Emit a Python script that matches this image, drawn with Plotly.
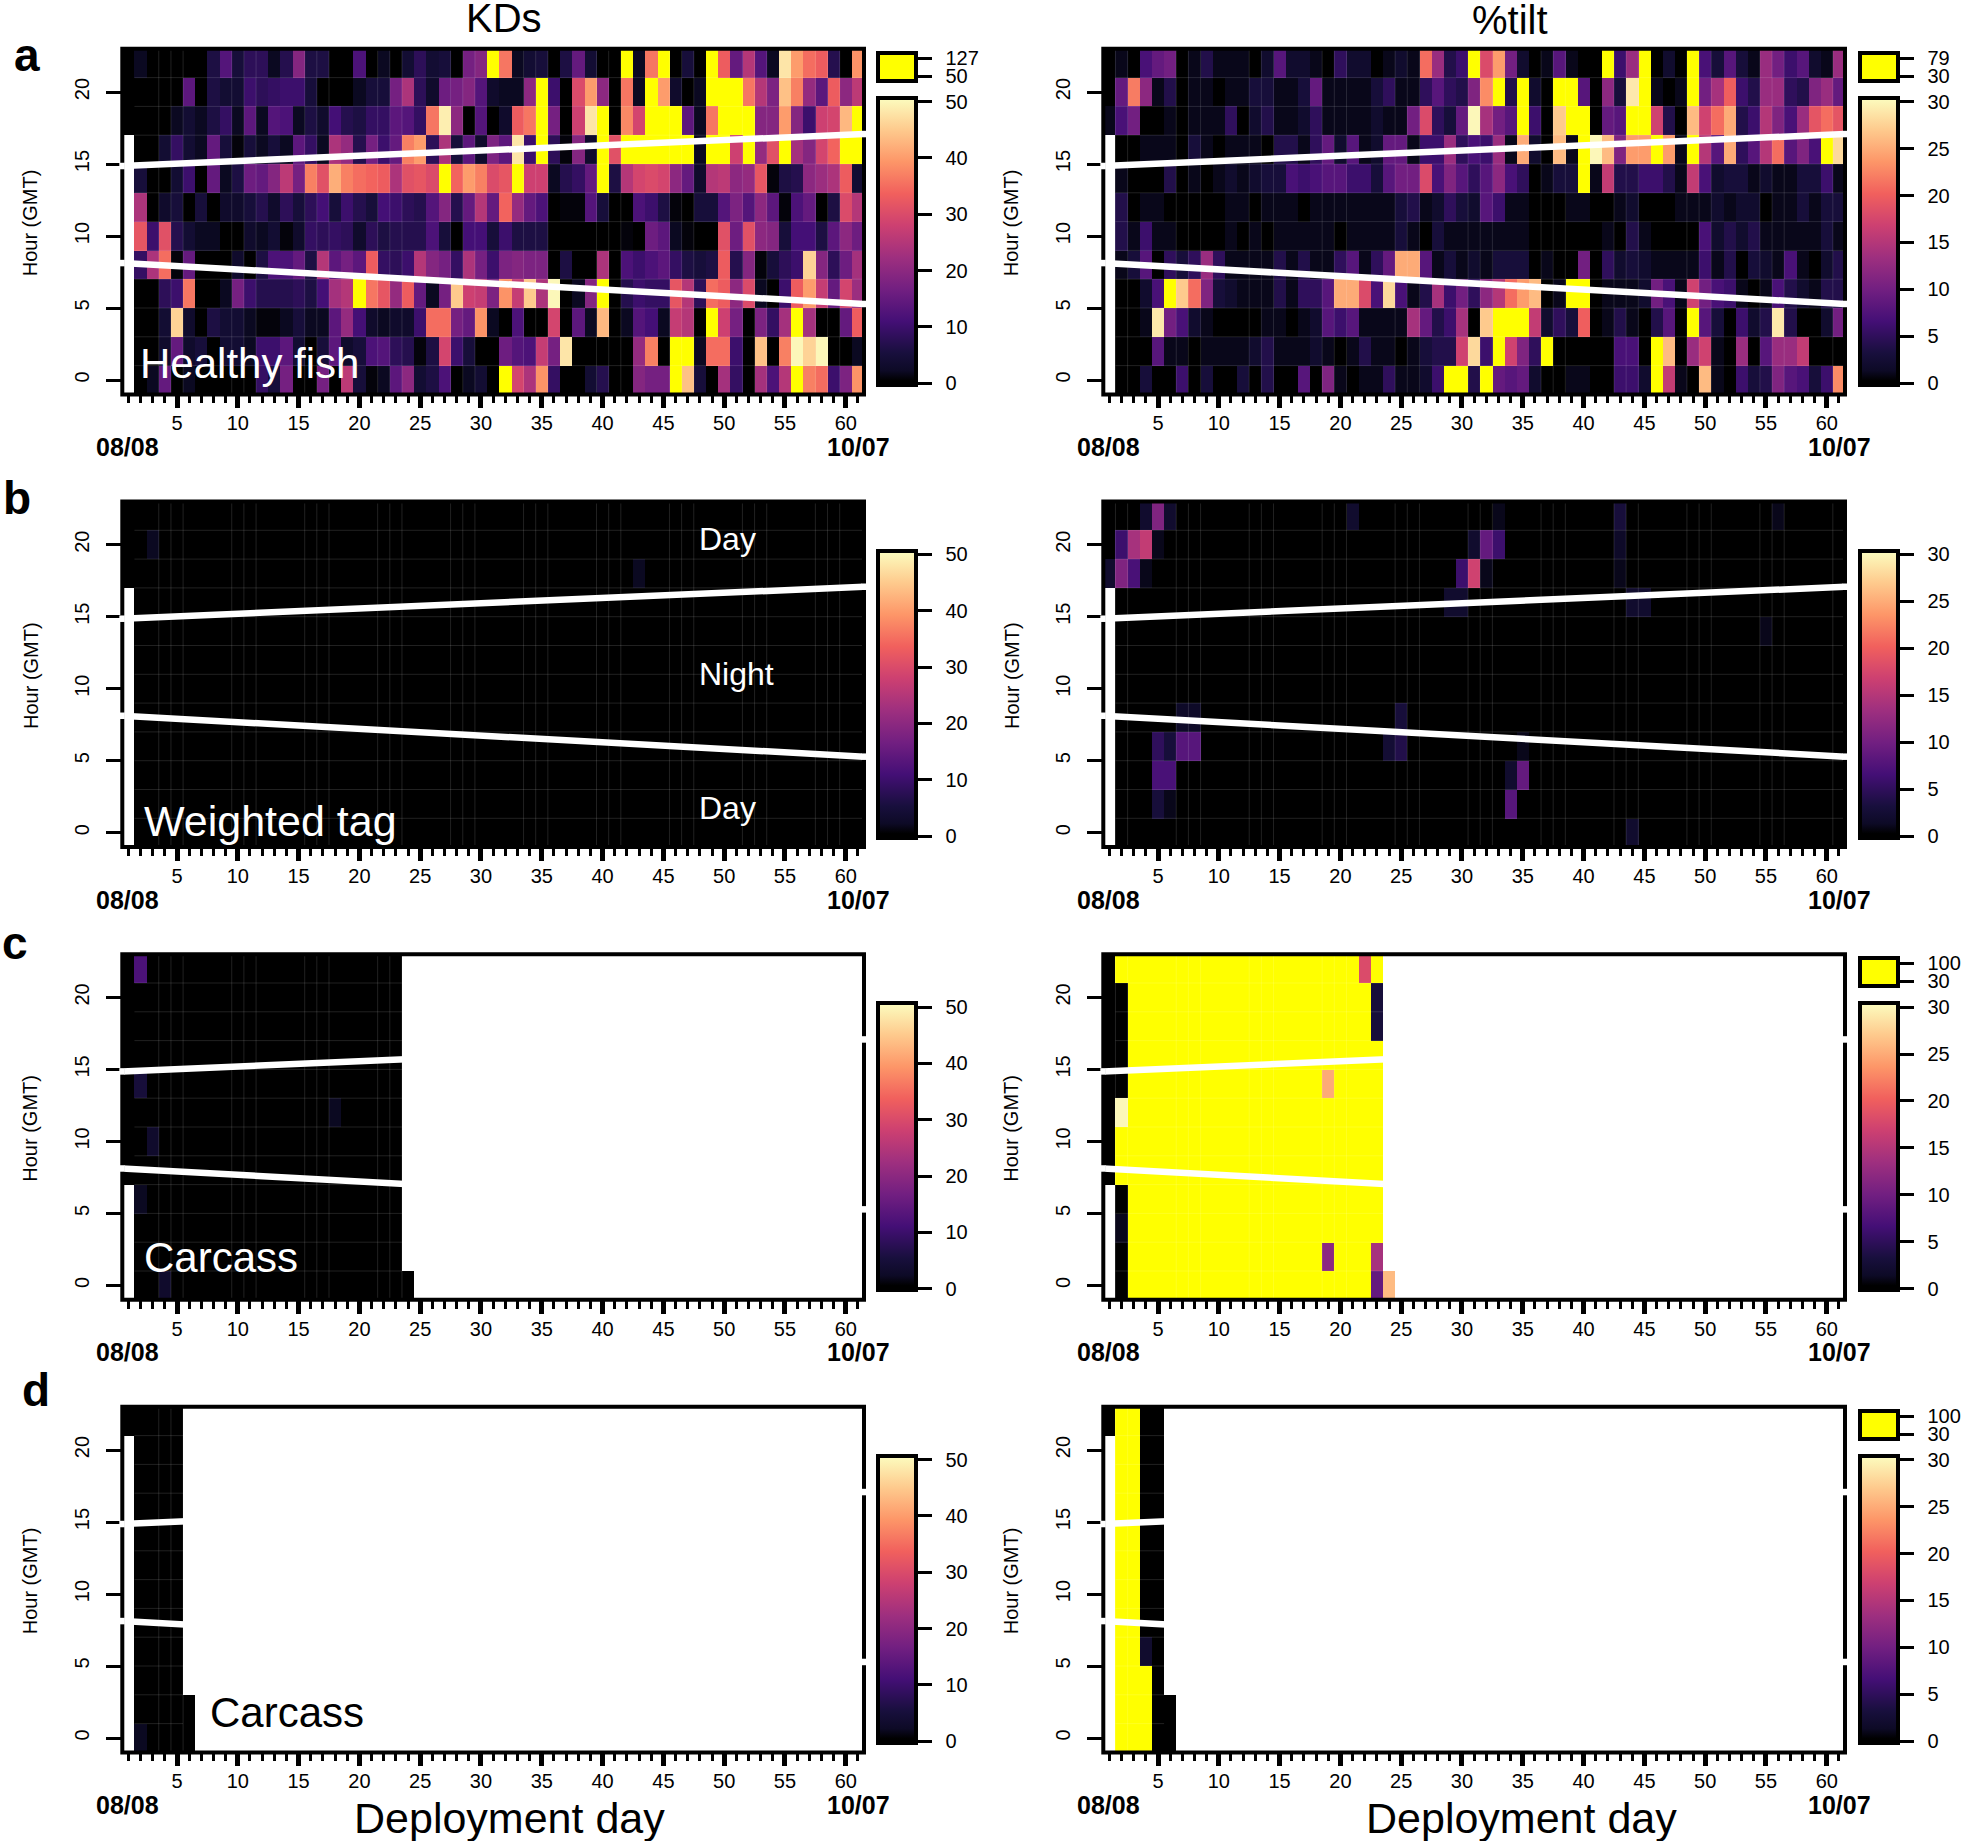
import numpy as np
import plotly.graph_objects as go

W, H = 1961, 1841
days = list(range(1, 62))
hours = list(range(0, 24, 2))
day_ticks = [5, 10, 15, 20, 25, 30, 35, 40, 45, 50, 55, 60]
hour_ticks = [0, 5, 10, 15, 20]
column_titles = ["KDs", "%tilt"]
panel_letters = ["a", "b", "c", "d"]
start_date, end_date = "08/08", "10/07"

# Panel a, KDs (hour bins, day 1..61)
kd_h22 = [0,2,0,0,0,0,0,6,13,5,8,8,2,7,19,6,6,0,0,12,0,2,0,4,8,4,5,0,17,19,70, 36,2,4,5,0,6,15,4,0,0,127,2,36,70,0,5,0,70,33,15,25,13,2,48,40,35,33,7,0,39]
kd_h20 = [0,0,0,0,0,14,0,6,4,4,10,8,9,10,10,5,0,0,0,2,5,5,17,24,8,3,16,17,19,13,3, 2,2,20,70,10,0,30,40,20,0,36,2,70,40,3,0,2,70,70,70,36,25,18,44,37,21,14,33,20,26]
kd_h18 = [0,0,0,0,2,4,2,6,9,2,14,2,13,12,2,6,3,11,7,6,9,9,14,13,9,36,49,20,0,13,0, 3,33,36,70,17,0,28,48,70,0,38,29,70,70,70,14,2,36,70,70,70,19,19,40,19,10,28,29,43,70]
kd_h16 = [None,0,0,4,9,4,2,15,5,1,5,2,5,2,14,9,2,24,21,7,17,10,15,37,40,8,24,5,14,3,18, 14,48,10,70,8,1,19,3,70,31,70,70,70,70,70,70,2,70,70,28,70,21,31,70,23,19,29,34,70,70]
kd_h14 = [None,5,0,0,4,10,0,15,2,6,16,15,19,26,17,37,31,42,37,35,34,33,24,31,32,30,70,34,40,37,30, 32,70,28,28,2,7,9,15,70,6,25,29,30,29,20,15,3,25,26,20,21,32,1,6,7,20,22,24,33,4]
kd_h12 = [None,24,0,3,5,0,5,0,3,3,5,7,3,8,5,8,11,5,10,7,5,11,10,8,7,13,19,7,15,25,15, 34,21,15,12,0,1,1,13,5,0,0,12,10,6,1,0,5,5,13,18,13,20,14,1,12,15,0,6,30,25]
kd_h10 = [None,32,10,31,7,4,2,2,0,0,3,2,4,1,3,9,8,9,8,3,8,6,7,7,7,12,5,0,11,11,5, 10,6,6,6,0,0,0,0,0,0,1,0,16,14,2,1,0,0,31,16,31,20,19,5,11,11,6,14,20,16]
kd_h08 = [None,9,24,35,1,15,0,0,0,3,0,6,12,12,15,6,25,14,17,14,33,9,8,10,25,19,17,9,24,17,10, 18,19,18,18,0,6,0,0,24,0,12,10,12,14,9,6,5,6,33,7,19,1,5,8,10,46,19,8,16,23]
kd_h06 = [None,0,0,8,10,36,0,0,2,17,10,7,7,7,8,6,11,23,25,70,36,32,21,33,15,2,17,45,28,27,18, 39,27,45,24,50,0,2,19,70,0,7,10,9,9,32,25,8,35,33,20,30,2,0,10,33,40,27,15,29,22]
kd_h04 = [None,0,0,4,46,3,0,6,4,4,2,1,1,2,5,2,2,14,21,11,3,2,3,3,10,35,35,17,15,39,2, 0,12,0,0,29,0,14,2,43,0,2,13,11,2,27,25,0,70,28,17,0,18,9,23,70,23,0,0,15,33]
kd_h02 = [None,0,0,3,15,3,5,0,4,4,2,10,10,14,4,0,5,14,3,5,12,13,8,7,1,6,29,10,5,0,0, 16,13,12,27,17,48,0,0,0,0,0,21,37,0,70,70,2,35,35,10,0,44,0,37,50,46,50,0,0,2]
kd_h00 = [None,0,2,15,0,2,0,0,0,0,0,9,5,17,0,0,17,0,26,5,1,2,14,20,4,6,12,0,2,4,0, 70,29,24,39,9,0,0,4,7,0,0,19,17,17,70,44,5,0,23,9,0,23,12,25,70,37,35,10,18,39]

# Panel a, %tilt
tl_h22 = [0,1,0,7,9,10,0,1,4,1,1,1,0,2,8,2,2,1,0,5,2,2,0,1,2,1,21,13,4,6,45, 18,24,10,2,0,1,8,1,0,0,79,6,13,45,0,2,0,45,7,3,8,3,1,13,10,6,8,2,1,13]
tl_h20 = [0,9,22,12,1,4,0,1,1,0,1,1,3,3,1,1,3,9,1,1,1,1,3,5,1,1,5,8,5,4,11, 23,45,4,45,2,0,45,45,8,0,12,3,29,45,1,0,1,45,10,14,20,6,4,13,13,5,4,11,13,9]
tl_h18 = [1,7,10,0,0,1,0,1,1,1,5,0,2,4,1,1,2,5,1,1,1,1,2,1,1,10,18,5,3,9,30, 14,10,8,45,6,0,27,45,45,0,9,8,45,45,17,4,0,26,17,21,25,4,6,15,11,7,13,19,21,19]
tl_h16 = [None,0,0,1,1,1,0,3,1,0,1,1,1,0,4,4,1,5,9,2,8,1,2,9,9,1,6,6,13,5,7, 6,13,1,25,2,0,26,1,45,30,26,11,24,24,45,24,1,45,15,8,25,5,8,15,21,8,11,7,45,28]
tl_h14 = [None,1,0,0,0,4,0,1,0,1,2,1,2,3,3,7,6,7,8,8,6,6,3,8,10,10,18,7,11,8,5, 8,12,7,5,0,1,3,3,45,1,16,4,4,6,6,4,1,16,7,2,3,3,1,2,1,1,3,3,6,1]
tl_h12 = [None,4,0,1,1,0,0,0,0,0,1,1,0,1,1,1,0,1,1,1,1,1,1,1,3,4,1,2,5,3,2, 8,6,1,1,0,0,0,1,1,0,0,1,2,0,0,0,1,1,1,2,1,2,2,0,1,1,3,1,3,3]
tl_h10 = [None,4,1,6,1,1,0,0,0,0,1,0,1,0,1,1,1,1,1,0,1,1,1,1,3,1,0,3,1,1,1, 1,1,1,1,0,0,0,0,0,0,1,0,4,1,0,0,0,0,7,2,4,2,4,1,1,1,1,1,3,1]
tl_h08 = [None,1,3,8,0,5,3,5,13,5,1,1,1,1,4,1,4,1,1,5,8,1,5,9,25,25,8,1,3,1,2, 1,3,3,3,0,1,0,0,10,0,5,2,3,2,1,1,1,1,6,1,4,0,3,2,1,7,1,0,2,4]
tl_h06 = [None,0,0,2,7,45,27,21,11,3,2,1,1,1,4,1,5,5,8,25,25,18,7,28,7,1,4,14,6,10,5, 12,15,21,24,26,0,1,45,45,0,1,1,1,2,10,7,1,17,10,7,6,1,0,1,7,4,2,1,4,4]
tl_h04 = [None,0,0,1,29,10,7,2,1,0,0,0,0,1,1,0,1,2,8,6,8,1,1,1,1,14,9,4,6,14,0, 27,45,45,45,16,2,5,3,20,0,1,4,1,0,4,8,0,45,8,3,0,6,2,4,29,4,0,0,2,10]
tl_h02 = [None,0,0,0,8,1,1,0,1,1,1,1,2,4,1,1,1,2,1,0,1,4,1,1,0,1,3,4,4,17,28, 6,45,17,11,5,45,0,0,0,0,0,7,7,0,45,26,0,13,17,1,0,13,0,8,13,13,16,0,0,0]
tl_h00 = [None,0,0,3,0,0,6,0,3,0,0,3,0,4,0,0,8,0,11,1,0,1,1,5,1,1,2,6,45,45,4, 45,9,8,9,2,0,0,1,1,0,0,6,6,2,45,16,1,0,26,1,0,6,3,4,11,8,7,3,6,23]

rows_kd_a = [kd_h00,kd_h02,kd_h04,kd_h06,kd_h08,kd_h10,kd_h12,kd_h14,kd_h16,kd_h18,kd_h20,kd_h22]
rows_tl_a = [tl_h00,tl_h02,tl_h04,tl_h06,tl_h08,tl_h10,tl_h12,tl_h14,tl_h16,tl_h18,tl_h20,tl_h22]

# Sparse panels: non-background cells as (day, hour, value)
cells_b_kd = [(3,20,2),(43,18,2)]
cells_b_tl = [(4,22,2),(5,22,11),(6,22,2),(21,22,2),(33,22,1),(43,22,3),(56,22,1),
              (2,20,6),(3,20,14),(4,20,16),(5,20,1),(31,20,2),(32,20,9),(33,20,6),(43,20,1.5),
              (1,18,2),(2,18,11),(3,18,7),(4,18,1),(30,18,6),(31,18,17),(32,18,1),(43,18,1),
              (29,16,2),(30,16,2),(44,16,2),(45,16,2),(55,14,1),(7,8,1.5),(8,8,1.5),(25,8,3),
              (5,6,5),(6,6,3),(7,6,8),(8,6,8),(24,6,2.5),(25,6,4),(35,6,1),
              (5,4,7),(6,4,7),(34,4,2),(35,4,9),(5,2,3),(6,2,1),(34,2,8),(44,0,2)]
cells_c_kd = [(2,22,12),(2,14,5),(18,12,2),(3,10,3),(2,6,2),(4,0,3)]
cells_c_tl = [(1,22,0),(1,20,0),(1,18,0),(1,16,0),(1,14,0),(1,12,0),(1,10,0),(1,8,0),
              (2,20,0),(2,18,0),(2,16,0),(2,14,0),(2,12,30),(2,6,0),(2,4,1),(2,2,0),(2,0,0),
              (19,14,25),(19,2,12),(22,22,18),(23,20,3),(23,18,3),(23,2,14),(23,0,9),(24,0,26)]
cells_d_kd = [(2,0,2)]
cells_d_tl = [(4,6,2)]
over_fill_c_tl = 60      # saturated cells of the carcass %tilt panel
over_cells_d_tl = [(2,h,100) for h in hours] + [(3,h,100) for h in hours] + [(4,0,100),(4,2,100),(4,4,100)]

# Extent of each panel's record: last day with data per hour, and hours absent on day 1
last_day_b = 61
missing_day1_ab = [0,2,4,6,8,10,12,14,16]
missing_day1_c = [0,2,4,6]
missing_day1_d = [0,2,4,6,8,10,12,14,16,18,20]

# Sunrise / sunset lines
sun_days = [0.5, 61.5]
sunrise_h = [8.12, 5.28]
sunset_h = [14.86, 17.08]

# Faint seams between tiles of the raster (left and right columns)
seams_left = [3.5,4.5,5.5,9.5,10.5,11.5,15.5,16.5,17.5,21.5,22.5,23.5,27.5,28.5,29.5,33.5,34.5,35.5,39.5,40.5,41.5,45.5,46.5,47.5,51.5,52.5,53.5,57.5,58.5,59.5]
seams_right = [1.5,2.5,6.5,7.5,8.5,12.5,13.5,14.5,18.5,19.5,20.5,24.5,25.5,26.5,30.5,31.5,32.5,36.5,37.5,38.5,42.5,43.5,44.5,48.5,49.5,50.5,54.5,55.5,56.5,60.5]
seam_hours = [1,3,5,7,9,11,13,15,17,19,21]

colorscale_magma = [[0, "#000000"], [0.015, "#000000"], [0.05, "#0d0a26"], [0.111, "#180f3d"], [0.222, "#440f76"],
                    [0.333, "#721f81"], [0.444, "#9e2f7f"], [0.556, "#cd4071"], [0.667, "#f1605d"],
                    [0.778, "#fd9668"], [0.889, "#feca8d"], [1, "#fcfdbf"]]

for r in rows_kd_a + rows_tl_a:
    assert len(r) == 61, len(r)


def grid(cells, last_day, missing, fill=0, bottom_extra=None):
    z = np.full((12, 61), np.nan)
    z[:, :last_day] = fill
    if bottom_extra:
        for d, h_max in bottom_extra:
            for h in hours:
                if h <= h_max:
                    z[hours.index(h), d - 1] = fill
    for h in missing:
        z[hours.index(h), 0] = np.nan
    for d, h, v in cells:
        z[hours.index(h), d - 1] = v
    return z


za_kd = np.array(rows_kd_a, dtype=float)
za_tl = np.array(rows_tl_a, dtype=float)
zb_kd = grid(cells_b_kd, last_day_b, missing_day1_ab)
zb_tl = grid(cells_b_tl, last_day_b, missing_day1_ab)
zc_kd = grid(cells_c_kd, 23, missing_day1_c, bottom_extra=[(24, 0)])
zc_tl = grid(cells_c_tl, 23, missing_day1_c, fill=over_fill_c_tl)
zc_tl[hours.index(22), 2] = 100
zd_kd = grid(cells_d_kd, 5, missing_day1_d, bottom_extra=[(6, 2)])
zd_tl = grid(cells_d_tl + over_cells_d_tl, 5, missing_day1_d, bottom_extra=[(6, 2)])

panels = [
    (za_kd, za_tl, 61.5),
    (zb_kd, zb_tl, 61.5),
    (zc_kd, zc_tl, 23.5),
    (zd_kd, zd_tl, 5.5),
]

OFFS = [0, 452.7, 905.4, 1358]
COLX = [122.3, 1103.3]
PW = 741.7
FONT = "Liberation Sans"
fig = go.Figure()
layout = {}
ann = []
frames = []
nicks = []


def px(text, x, y, size, color="black", bold=False, angle=0, xanchor="center", yanchor="middle"):
    ann.append(dict(text=f"<b>{text}</b>" if bold else text, x=x / W, y=1 - y / H, xref="paper", yref="paper",
                    showarrow=False, font=dict(family=FONT, size=size, color=color), textangle=angle,
                    xanchor=xanchor, yanchor=yanchor))


def cb_labels(vals):
    return ["\u2002" + str(int(v)) for v in vals]


n = 0
for row, (z_kd, z_tl, last) in enumerate(panels):
    off = OFFS[row]
    for col, (z, cap, tv) in enumerate([(z_kd, 50, [0, 10, 20, 30, 40, 50]), (z_tl, 30, [0, 5, 10, 15, 20, 25, 30])]):
        n += 1
        xn = "x" if n == 1 else f"x{n}"
        yn = "y" if n == 1 else f"y{n}"
        x0 = COLX[col]
        ytop = 48.8 + off
        ybot = 394.4 + off
        layout["xaxis" if n == 1 else f"xaxis{n}"] = dict(
            domain=[x0 / W, (x0 + PW) / W], range=[0.5, 61.5], anchor=yn,
            tickmode="array", tickvals=day_ticks, ticktext=[str(d) for d in day_ticks],
            ticks="outside", ticklen=13, tickwidth=5, tickcolor="black", ticklabelstandoff=-2,
            tickfont=dict(family=FONT, size=20, color="black"), tickangle=0,
            showline=False, showgrid=False, zeroline=False, layer="below traces",
            minor=dict(tick0=1, dtick=1, ticks="outside", ticklen=8, tickwidth=3, tickcolor="black", showgrid=False),
        )
        layout["yaxis" if n == 1 else f"yaxis{n}"] = dict(
            domain=[1 - ybot / H, 1 - ytop / H], range=[-1, 23], anchor=xn,
            tickmode="array", tickvals=hour_ticks, ticktext=[str(h) for h in hour_ticks],
            ticks="outside", ticklen=15, tickwidth=3, tickcolor="black", ticklabelstandoff=9,
            tickfont=dict(family=FONT, size=20, color="black"), tickangle=-90,
            showline=False, showgrid=False, zeroline=False, layer="below traces",
        )
        frames.append(dict(type="rect", xref="paper", yref="paper", layer="above",
                           x0=x0 / W, x1=(x0 + PW) / W, y0=1 - ybot / H, y1=1 - ytop / H,
                           line=dict(color="black", width=4), fillcolor="rgba(0,0,0,0)"))
        for series in (sunrise_h, sunset_h):
            for d, h, a, b in ((sun_days[0], series[0], -3, 2.5), (sun_days[1], series[1], -2.5, 3)):
                py = ybot - (h + 1) / 24 * (ybot - ytop)
                pxx = x0 + (d - 0.5) / 61 * PW
                nicks.append(dict(type="line", xref="paper", yref="paper", layer="above",
                                  x0=(pxx + a) / W, x1=(pxx + b) / W, y0=1 - py / H, y1=1 - py / H,
                                  line=dict(color="white", width=6.5)))
        cb_x = (878 if col == 0 else 1860) / W
        lo, hi = -0.006 * cap, 1.013 * cap
        main = np.where(z <= cap, z, np.nan)
        fig.add_trace(go.Heatmap(
            x=days, y=hours, z=main, xaxis=xn, yaxis=yn, colorscale=colorscale_magma, zmin=lo, zmax=hi,
            hoverinfo="skip", hoverongaps=False,
            colorbar=dict(x=cb_x, xanchor="left", xpad=0, y=1 - (98 + off) / H, yanchor="top", ypad=0,
                          len=287, lenmode="pixels", thickness=38, thicknessmode="pixels",
                          outlinewidth=4, outlinecolor="black", borderwidth=0,
                          tickmode="array", tickvals=tv, ticktext=cb_labels(tv),
                          ticks="outside", ticklen=14, tickwidth=3, tickcolor="black",
                          tickfont=dict(family=FONT, size=20, color="black")),
        ))
        over = np.where(z > cap, z, np.nan)
        if np.isfinite(over).any():
            top = float(np.nanmax(over))
            u = (top - cap) / 18
            fig.add_trace(go.Heatmap(
                x=days, y=hours, z=over, xaxis=xn, yaxis=yn,
                colorscale=[[0, "#ffff00"], [1, "#ffff00"]], zmin=cap - 5 * u, zmax=top + 5 * u,
                hoverinfo="skip", hoverongaps=False,
                colorbar=dict(x=cb_x, xanchor="left", xpad=0, y=1 - (53 + off) / H, yanchor="top", ypad=0,
                              len=28, lenmode="pixels", thickness=38, thicknessmode="pixels",
                              outlinewidth=4, outlinecolor="black", borderwidth=0,
                              tickmode="array", tickvals=[cap, top], ticktext=cb_labels([cap, top]),
                              ticks="outside", ticklen=14, tickwidth=3, tickcolor="black",
                              tickfont=dict(family=FONT, size=20, color="black")),
            ))
        # seams
        sx, sy = [], []
        for h in seam_hours:
            sx += [1.5, last, None]
            sy += [h, h, None]
        for d in (seams_left if col == 0 else seams_right):
            if d <= last:
                sx += [d, d, None]
                sy += [-1, 23, None]
        fig.add_trace(go.Scatter(x=sx, y=sy, xaxis=xn, yaxis=yn, mode="lines",
                                 line=dict(color="rgba(255,255,255,0.13)", width=1),
                                 hoverinfo="skip", showlegend=False))
        for series in (sunrise_h, sunset_h):
            fig.add_trace(go.Scatter(x=sun_days, y=series, xaxis=xn, yaxis=yn, mode="lines",
                                     line=dict(color="white", width=6.5),
                                     hoverinfo="skip", showlegend=False))
        px("Hour (GMT)", x0 - 92, 223 + off, 20, angle=-90)
        px(start_date, x0 + 5.5, 447 + off, 25, bold=True)
        px(end_date, x0 + 736, 447 + off, 25, bold=True)

# column titles and panel letters
px(column_titles[0], 504, 18, 40)
px(column_titles[1], 1510, 20, 40)
for L, xx, yy in zip(panel_letters, [27, 17, 15, 36], [55, 498, 943, 1390]):
    px(L, xx, yy, 46, bold=True)
px("Healthy fish", 137.5, 363, 42, color="white", xanchor="left")
px("Weighted tag", 141.5, 821, 43, color="white", xanchor="left")
px("Carcass", 142, 1257, 42, color="white", xanchor="left")
px("Carcass", 208, 1712, 42, xanchor="left")
px("Day", 697, 539, 32, color="white", xanchor="left")
px("Night", 697, 674, 32, color="white", xanchor="left")
px("Day", 697, 808, 32, color="white", xanchor="left")
px("Deployment day", 509, 1818, 43)
px("Deployment day", 1521, 1818, 43)

fig.update_layout(width=W, height=H, margin=dict(l=0, r=0, t=0, b=0, autoexpand=False),
                  paper_bgcolor="white", plot_bgcolor="white", showlegend=False, annotations=ann,
                  shapes=frames + nicks, **layout)
fig.write_html("out.html", config={"displayModeBar": False}, post_script="document.body.style.margin='0';")
